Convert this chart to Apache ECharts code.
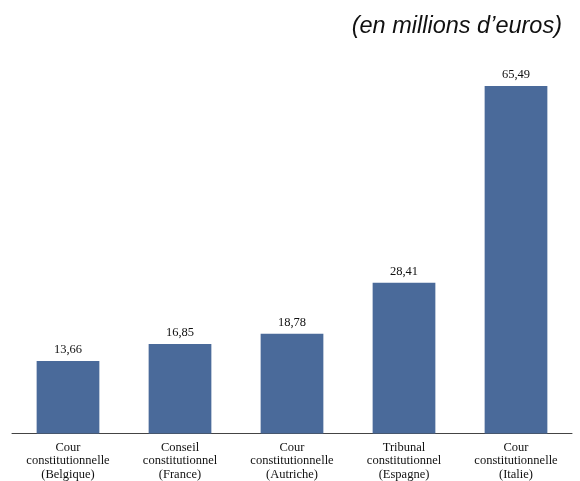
<!DOCTYPE html>
<html><head><meta charset="utf-8">
<script src="https://cdn.jsdelivr.net/npm/echarts@6/dist/echarts.min.js"></script>
<style>html,body{margin:0;padding:0;background:#fff;}#c{width:580px;height:481px;}</style>
</head><body><div id="c"></div>
<script>
const categories = [
  "Cour\nconstitutionnelle\n(Belgique)",
  "Conseil\nconstitutionnel\n(France)",
  "Cour\nconstitutionnelle\n(Autriche)",
  "Tribunal\nconstitutionnel\n(Espagne)",
  "Cour\nconstitutionnelle\n(Italie)"
];
const values = [13.66, 16.85, 18.78, 28.41, 65.49];
const titleText = "(en millions d\u2019euros)";

const chart = echarts.init(document.getElementById('c'), null, {renderer: 'canvas'});
chart.setOption({
  animation: false,
  backgroundColor: '#fff',
  title: {
    text: titleText,
    right: 13, top: 10,
    textStyle: {fontFamily: 'Liberation Sans, Arial, sans-serif', fontStyle: 'italic', fontWeight: 'normal', fontSize: 23.5, color: '#111'}
  },
  grid: {left: 12, right: 8, top: 62, bottom: 43},
  xAxis: {
    type: 'category',
    data: categories,
    axisTick: {show: false},
    axisLine: {lineStyle: {color: '#444', width: 1}},
    axisLabel: {
      interval: 0, margin: 7,
      fontFamily: 'Liberation Serif, Times New Roman, serif', fontSize: 12.5, lineHeight: 13.5, color: '#111'
    }
  },
  yAxis: {type: 'value', min: 0, max: 70, show: false, splitLine: {show: false}},
  series: [{
    type: 'bar',
    data: values,
    barWidth: '56%',
    itemStyle: {color: '#4a6a9a'},
    label: {
      show: true, position: 'top', distance: 5,
      fontFamily: 'Liberation Serif, Times New Roman, serif', fontSize: 12.5, color: '#111',
      formatter: p => p.value.toFixed(2).replace('.', ',')
    }
  }]
});
</script></body></html>
